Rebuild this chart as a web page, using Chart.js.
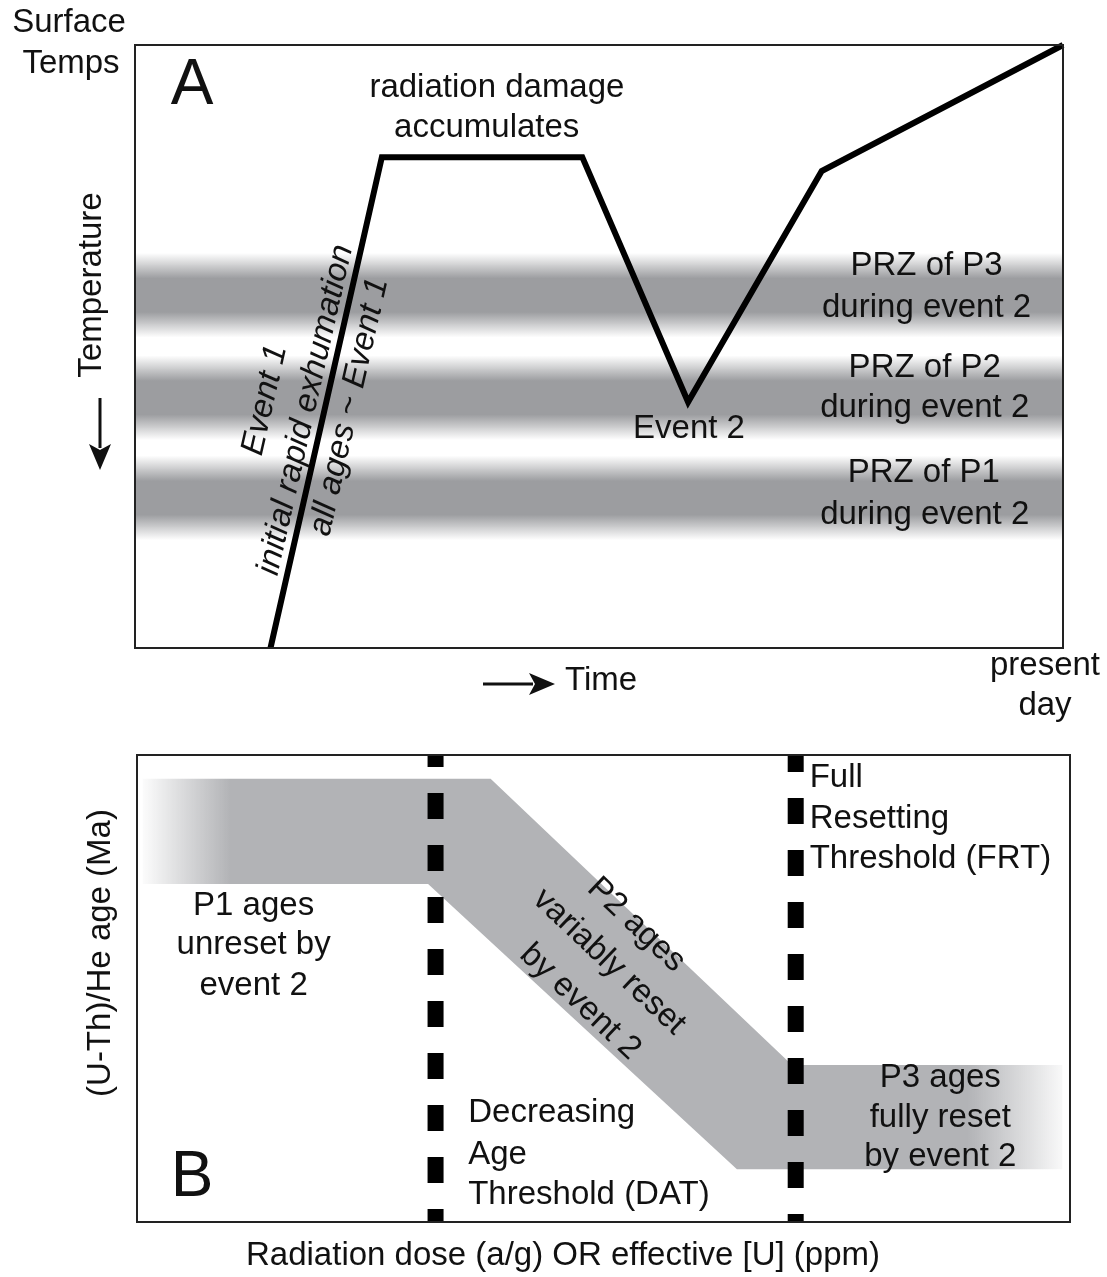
<!DOCTYPE html>
<html>
<head>
<meta charset="utf-8">
<script src="https://cdn.jsdelivr.net/npm/chart.js@4.4.1/dist/chart.umd.min.js"></script>
<style>
  html, body { margin: 0; padding: 0; background: #fff; }
  #wrap { position: relative; width: 1107px; height: 1277px; }
  .panel { position: absolute; left: 0; width: 1107px; }
  #panelA { top: 0; height: 740px; }
  #panelB { top: 740px; height: 537px; }
</style>
</head>
<body>
<div id="wrap">
  <div class="panel" id="panelA"><canvas id="chartA"></canvas></div>
  <div class="panel" id="panelB"><canvas id="chartB"></canvas></div>
</div>
<script>
// Panel A: schematic thermal history (time 0-100, temperature 100 = surface)
const historyTime = [14.6, 26.6, 48.2, 59.6, 74.0, 100];
const historyTemp = [0, 81.4, 81.4, 40.8, 79.1, 100];

// partial retention zones during event 2 (centre and half width, temperature units)
const przNames = ["P3", "P2", "P1"];
const przCentre = [58.5, 41.5, 24.9];
const przHalf = [7.0, 7.0, 7.0];

// Panel B: age band vs radiation dose (both 0-100)
const bandTopDose = [0.6, 37.9, 70.2, 99.2];
const bandTopAge = [94.9, 94.9, 33.6, 33.6];
const bandBaseDose = [0.6, 31.2, 64.3, 99.2];
const bandBaseAge = [72.4, 72.4, 11.3, 11.3];

const thresholdNames = ["DAT", "FRT"];
const thresholdDose = [32.0, 70.6];
const thresholdDashOffset = [14, 9];

const FONT = "'Liberation Sans', Arial, Helvetica, sans-serif";
const INK = "#111";
const PRZ_GREY = "156,157,160";
const BAND_GREY = "178,179,182";

const toXY = (xs, ys) => xs.map((x, i) => ({ x, y: ys[i] }));

function drawText(ctx, str, x, y, opt = {}) {
  ctx.save();
  ctx.translate(x, y);
  if (opt.angle) ctx.rotate((opt.angle * Math.PI) / 180);
  ctx.font = `${opt.italic ? "italic " : ""}${opt.size || 33}px ${FONT}`;
  ctx.fillStyle = INK;
  ctx.textAlign = opt.align || "center";
  ctx.textBaseline = "middle";
  ctx.fillText(str, 0, 0);
  ctx.restore();
}

function drawArrow(ctx, x0, y0, x1, y1) {
  const ang = Math.atan2(y1 - y0, x1 - x0);
  const head = 26, half = 11;
  const bx = x1 - head * Math.cos(ang), by = y1 - head * Math.sin(ang);
  ctx.save();
  ctx.strokeStyle = INK;
  ctx.fillStyle = INK;
  ctx.lineWidth = 3;
  ctx.beginPath();
  ctx.moveTo(x0, y0);
  ctx.lineTo(bx + 4 * Math.cos(ang), by + 4 * Math.sin(ang));
  ctx.stroke();
  ctx.beginPath();
  ctx.moveTo(x1, y1);
  ctx.lineTo(bx - half * Math.sin(ang), by + half * Math.cos(ang));
  ctx.lineTo(bx + 6 * Math.cos(ang), by + 6 * Math.sin(ang));
  ctx.lineTo(bx + half * Math.sin(ang), by - half * Math.cos(ang));
  ctx.closePath();
  ctx.fill();
  ctx.restore();
}

function drawFrame(chart) {
  const { ctx, chartArea: a } = chart;
  ctx.save();
  ctx.strokeStyle = "#222";
  ctx.lineWidth = 2;
  ctx.strokeRect(a.left, a.top, a.right - a.left, a.bottom - a.top);
  ctx.restore();
}

// labels placed in data coordinates
const EXHUMATION_ANGLE = -77.15;
const labelsA = [
  { t: "A", x: 6.14, y: 93.2, size: 64 },
  { t: "radiation damage", x: 39.0, y: 92.9 },
  { t: "accumulates", x: 37.9, y: 86.2 },
  { t: "Event 2", x: 59.7, y: 36.3 },
  { t: "PRZ of " + przNames[0], x: 85.3, y: 63.3 },
  { t: "during event 2", x: 85.3, y: 56.4 },
  { t: "PRZ of " + przNames[1], x: 85.1, y: 46.4 },
  { t: "during event 2", x: 85.1, y: 39.8 },
  { t: "PRZ of " + przNames[2], x: 85.0, y: 29.0 },
  { t: "during event 2", x: 85.1, y: 22.1 },
  { t: "Event 1", x: 14.0, y: 41.1, angle: EXHUMATION_ANGLE, italic: true },
  { t: "initial rapid exhumation", x: 18.4, y: 39.5, angle: EXHUMATION_ANGLE, italic: true },
  { t: "all ages ~ Event 1", x: 23.1, y: 40.0, angle: EXHUMATION_ANGLE, italic: true },
];

const P2_ANGLE = 43.4;
const labelsB = [
  { t: "B", x: 5.9, y: 9.4, size: 64 },
  { t: "P1 ages", x: 12.5, y: 67.7 },
  { t: "unreset by", x: 12.5, y: 59.3 },
  { t: "event 2", x: 12.5, y: 50.5 },
  { t: "P2 ages", x: 53.5, y: 63.6, angle: P2_ANGLE },
  { t: "variably reset", x: 50.6, y: 55.7, angle: P2_ANGLE },
  { t: "by event 2", x: 47.5, y: 47.1, angle: P2_ANGLE },
  { t: "Decreasing", x: 35.5, y: 23.3, align: "left" },
  { t: "Age", x: 35.5, y: 14.3, align: "left" },
  { t: "Threshold (" + thresholdNames[0] + ")", x: 35.5, y: 5.8, align: "left" },
  { t: "Full", x: 72.1, y: 95.1, align: "left" },
  { t: "Resetting", x: 72.1, y: 86.3, align: "left" },
  { t: "Threshold (" + thresholdNames[1] + ")", x: 72.1, y: 77.7, align: "left" },
  { t: "P3 ages", x: 86.1, y: 30.8 },
  { t: "fully reset", x: 86.1, y: 22.3 },
  { t: "by event 2", x: 86.1, y: 13.9 },
];

function drawLabels(chart, labels) {
  const { ctx, scales: { x, y } } = chart;
  labels.forEach((l) =>
    drawText(ctx, l.t, x.getPixelForValue(l.x), y.getPixelForValue(l.y), l)
  );
}

const hiddenScales = {
  x: { type: "linear", min: 0, max: 100, display: false },
  y: { type: "linear", min: 0, max: 100, display: false },
};

// grey partial retention zone bands with soft edges
const przBands = {
  id: "przBands",
  beforeDatasetsDraw(chart) {
    const { ctx, chartArea: a, scales: { y } } = chart;
    ctx.save();
    przCentre.forEach((c, i) => {
      const top = y.getPixelForValue(c + przHalf[i]);
      const bot = y.getPixelForValue(c - przHalf[i]);
      const g = ctx.createLinearGradient(0, top, 0, bot);
      g.addColorStop(0, `rgba(${PRZ_GREY},0)`);
      g.addColorStop(0.3, `rgba(${PRZ_GREY},1)`);
      g.addColorStop(0.7, `rgba(${PRZ_GREY},1)`);
      g.addColorStop(1, `rgba(${PRZ_GREY},0)`);
      ctx.fillStyle = g;
      ctx.fillRect(a.left, top, a.right - a.left, bot - top);
    });
    ctx.restore();
  },
  afterDatasetsDraw(chart) {
    const { ctx, chartArea: a } = chart;
    drawFrame(chart);
    drawLabels(chart, labelsA);
    drawText(ctx, "Surface", a.left - 66, a.top - 22);
    drawText(ctx, "Temps", a.left - 64, a.top + 19);
    drawText(ctx, "Temperature", a.left - 43, 285, { angle: -90 });
    drawArrow(ctx, a.left - 35, 398, a.left - 35, 470);
    drawArrow(ctx, 483, a.bottom + 36, 555, a.bottom + 36);
    drawText(ctx, "Time", 565, a.bottom + 33, { align: "left" });
    drawText(ctx, "present", a.right - 18, a.bottom + 18);
    drawText(ctx, "day", a.right - 18, a.bottom + 58);
  },
};

new Chart(document.getElementById("chartA"), {
  type: "line",
  data: {
    datasets: [
      {
        data: toXY(historyTime, historyTemp),
        borderColor: "#000",
        borderWidth: 6,
        borderJoinStyle: "miter",
        pointRadius: 0,
        tension: 0,
        fill: false,
        clip: 4,
      },
    ],
  },
  options: {
    responsive: true,
    maintainAspectRatio: false,
    animation: false,
    events: [],
    layout: { padding: { left: 135, top: 45, right: 44, bottom: 92 } },
    scales: hiddenScales,
    plugins: { legend: { display: false }, tooltip: { enabled: false } },
  },
  plugins: [przBands],
});

// horizontal fade at both ends of the age band
function bandFill(context) {
  const { chart } = context;
  const a = chart.chartArea;
  if (!a) return `rgb(${BAND_GREY})`;
  const g = chart.ctx.createLinearGradient(a.left, 0, a.right, 0);
  g.addColorStop(0.0, `rgba(${BAND_GREY},0)`);
  g.addColorStop(0.012, `rgba(${BAND_GREY},0.1)`);
  g.addColorStop(0.1, `rgba(${BAND_GREY},1)`);
  g.addColorStop(0.89, `rgba(${BAND_GREY},1)`);
  g.addColorStop(0.99, `rgba(${BAND_GREY},0.1)`);
  g.addColorStop(1, `rgba(${BAND_GREY},0)`);
  return g;
}

const panelB = {
  id: "panelB",
  afterDatasetsDraw(chart) {
    const { ctx, chartArea: a } = chart;
    drawFrame(chart);
    drawLabels(chart, labelsB);
    drawText(ctx, "(U-Th)/He age (Ma)", a.left - 36, 213, { angle: -90 });
    drawText(ctx, "Radiation dose (a/g) OR effective [U] (ppm)", 563, a.bottom + 34);
  },
};

const thresholdSets = thresholdDose.map((d, i) => ({
  label: thresholdNames[i],
  data: [{ x: d, y: 100 }, { x: d, y: 0 }],
  borderColor: "#000",
  borderWidth: 16,
  borderDash: [26, 26],
  borderDashOffset: thresholdDashOffset[i],
  borderCapStyle: "butt",
  pointRadius: 0,
  fill: false,
  order: 0,
}));

new Chart(document.getElementById("chartB"), {
  type: "line",
  data: {
    datasets: [
      ...thresholdSets,
      {
        label: "band top",
        data: toXY(bandTopDose, bandTopAge),
        borderWidth: 0,
        borderColor: "rgba(0,0,0,0)",
        backgroundColor: bandFill,
        pointRadius: 0,
        tension: 0,
        fill: "+1",
        order: 5,
      },
      {
        label: "band base",
        data: toXY(bandBaseDose, bandBaseAge),
        borderWidth: 0,
        borderColor: "rgba(0,0,0,0)",
        pointRadius: 0,
        tension: 0,
        fill: false,
        order: 6,
      },
    ],
  },
  options: {
    responsive: true,
    maintainAspectRatio: false,
    animation: false,
    events: [],
    layout: { padding: { left: 137, top: 15, right: 37, bottom: 55 } },
    scales: hiddenScales,
    plugins: { legend: { display: false }, tooltip: { enabled: false } },
  },
  plugins: [panelB],
});
</script>
</body>
</html>
